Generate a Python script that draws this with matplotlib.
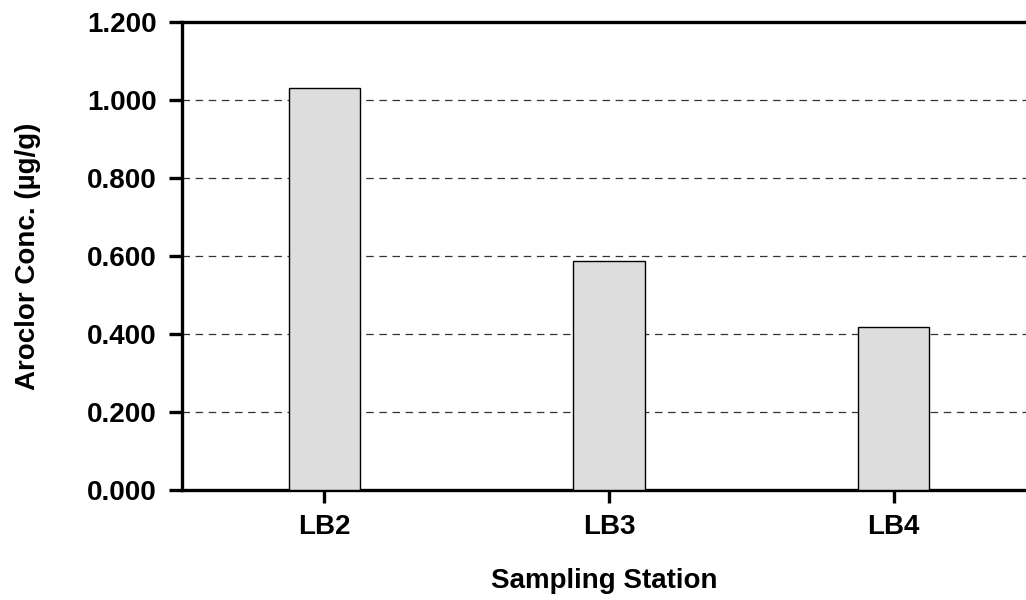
import matplotlib.pyplot as plt
import numpy as np

stations = ['LB2', 'LB3', 'LB4']
conc = [1.030, 0.587, 0.417]
yticks = [0.0, 0.2, 0.4, 0.6, 0.8, 1.0, 1.2]

plt.rcParams['font.family'] = ['Liberation Sans', 'DejaVu Sans']
plt.rcParams['font.weight'] = 'bold'

fig = plt.figure(figsize=(10.26, 6), dpi=100)
ax = fig.add_axes([0.1775, 0.1833, 0.8225, 0.78])

x = np.arange(len(stations))
ax.bar(x, conc, width=0.25, color='#dddddd', edgecolor='black', linewidth=1.0, zorder=3)

for v in yticks[1:-1]:
    ax.axhline(v, color='#333333', linestyle=(0, (6, 4.5)), linewidth=0.9, zorder=1)

ax.set_xlim(-0.5, 2.465)
ax.set_ylim(0, 1.2)
ax.set_xticks(x)
ax.set_xticklabels(stations)
ax.set_yticks(yticks)
ax.set_yticklabels(['%.3f' % v for v in yticks])

for s in ['left', 'top', 'bottom']:
    ax.spines[s].set_linewidth(2.4)
ax.spines['right'].set_visible(False)
ax.tick_params(axis='both', direction='out', length=9.5, width=2.4, labelsize=20, pad=9)
ax.tick_params(axis='x', pad=8)

ax.set_xlabel('Sampling Station', fontsize=20, fontweight='bold', labelpad=20)
ax.set_ylabel('Aroclor Conc. (µg/g)', fontsize=20, fontweight='bold', labelpad=33)

fig.savefig('out.png', dpi=100)
